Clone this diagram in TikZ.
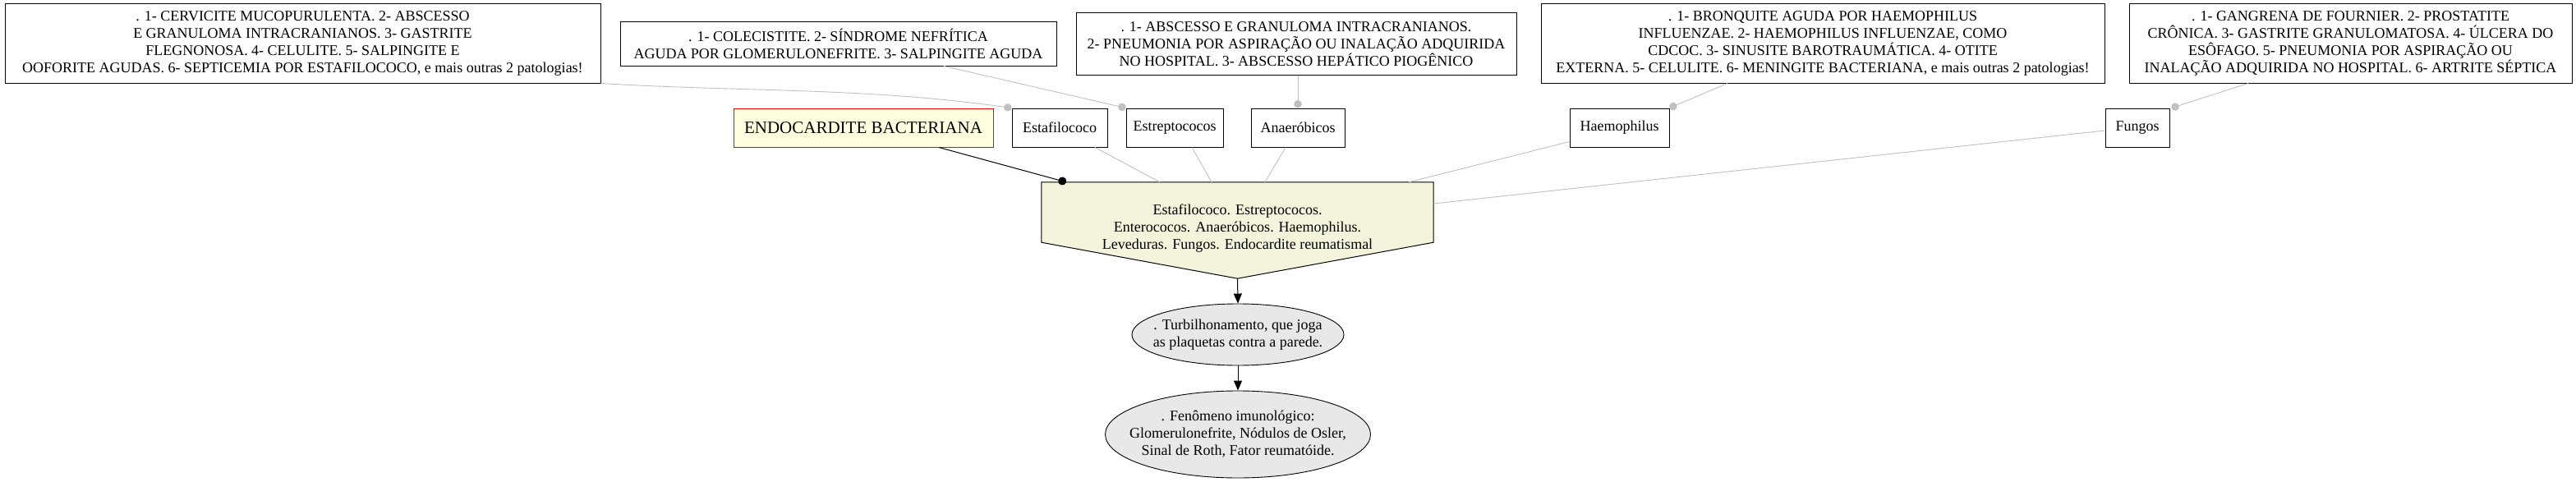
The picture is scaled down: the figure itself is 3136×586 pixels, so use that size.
\documentclass[tikz,border=0pt]{standalone}
\usepackage{fontspec}
\setmainfont{Liberation Serif}
\usetikzlibrary{arrows.meta,shapes.geometric}
\definecolor{edgegray}{HTML}{C0C0C0}
\definecolor{lyellow}{HTML}{FFFFE0}
\definecolor{beigefill}{HTML}{F4F4DC}
\definecolor{ellfill}{HTML}{E8E8E8}
\begin{document}
\begin{tikzpicture}[x=1pt,y=-1pt,
  txt/.style={font=\fontsize{18}{21}\selectfont, align=center, inner sep=0pt},
  textbox/.style={txt, draw=black, line width=1pt, rectangle, fill=white},
  orgbox/.style={txt, draw=black, line width=1pt, rectangle, minimum height=47pt, fill=white},
  mainbox/.style={draw=red, line width=1pt, fill=lyellow, inner sep=0pt, font=\fontsize{21}{25}\selectfont, minimum height=47pt},
  ellnode/.style={ellipse, draw=black, line width=0.9pt, fill=ellfill, inner sep=0pt},
  grayedge/.style={draw=edgegray, line width=0.9pt},
  dotedge/.style={grayedge, -{Circle[length=9.5pt]}},
  blackdot/.style={draw=black, line width=1pt, -{Circle[length=10pt]}},
  flowarrow/.style={draw=black, line width=1pt, -{Triangle[length=12pt,width=10pt]}}
]
\useasboundingbox (0,0) rectangle (3136,586);

% top text boxes
\node[textbox, minimum width=725pt, minimum height=96pt] (b1) at (368.5,53)
  {. 1- CERVICITE MUCOPURULENTA. 2- ABSCESSO\\ E GRANULOMA INTRACRANIANOS. 3- GASTRITE\\ FLEGNONOSA. 4- CELULITE. 5- SALPINGITE E\\ OOFORITE AGUDAS. 6- SEPTICEMIA POR ESTAFILOCOCO, e mais outras 2 patologias!};
\node[textbox, minimum width=531pt, minimum height=53pt] (b2) at (1020.5,53.5)
  {. 1- COLECISTITE. 2- SÍNDROME NEFRÍTICA\\ AGUDA POR GLOMERULONEFRITE. 3- SALPINGITE AGUDA};
\node[textbox, minimum width=536pt, minimum height=75pt] (b3) at (1578,53.5)
  {. 1- ABSCESSO E GRANULOMA INTRACRANIANOS.\\ 2- PNEUMONIA POR ASPIRAÇÃO OU INALAÇÃO ADQUIRIDA\\ NO HOSPITAL. 3- ABSCESSO HEPÁTICO PIOGÊNICO};
\node[textbox, minimum width=686pt, minimum height=96pt] (b4) at (2219,53)
  {. 1- BRONQUITE AGUDA POR HAEMOPHILUS\\ INFLUENZAE. 2- HAEMOPHILUS INFLUENZAE, COMO\\ CDCOC. 3- SINUSITE BAROTRAUMÁTICA. 4- OTITE\\ EXTERNA. 5- CELULITE. 6- MENINGITE BACTERIANA, e mais outras 2 patologias!};
\node[textbox, minimum width=539pt, minimum height=96pt] (b5) at (2861.5,53)
  {. 1- GANGRENA DE FOURNIER. 2- PROSTATITE\\ CRÔNICA. 3- GASTRITE GRANULOMATOSA. 4- ÚLCERA DO\\ ESÔFAGO. 5- PNEUMONIA POR ASPIRAÇÃO OU\\ INALAÇÃO ADQUIRIDA NO HOSPITAL. 6- ARTRITE SÉPTICA};

% middle row
\node[mainbox, minimum width=316pt] (endo) at (1051,155.5) {ENDOCARDITE BACTERIANA};
\node[orgbox, minimum width=116pt] (estaf) at (1290,155.5) {Estafilococo};
\node[orgbox, minimum width=118pt] (estrep) at (1430,155.5) {Estreptococos};
\node[orgbox, minimum width=114pt] (anaer) at (1580,155.5) {Anaeróbicos};
\node[orgbox, minimum width=121pt] (haem) at (1971.5,155.5) {Haemophilus};
\node[orgbox, minimum width=78pt] (fungos) at (2602,155.5) {Fungos};

% pentagon
\node[minimum width=477pt, minimum height=117pt, inner sep=0pt] (poly) at (1506.5,280.5) {};
\filldraw[fill=beigefill, draw=black, line width=1pt]
  (poly.north west) -- (poly.north east) -- ([yshift=44pt]poly.south east)
  -- (poly.south) -- ([yshift=44pt]poly.south west) -- cycle;
\node[txt] (polytxt) at ([yshift=2pt]poly.center)
  {Estafilococo. Estreptococos.\\ Enterococos. Anaeróbicos. Haemophilus.\\ Leveduras. Fungos. Endocardite reumatismal};

% ellipses
\node[ellnode, minimum width=258pt, minimum height=75pt,
  label={[txt]center:{. Turbilhonamento, que joga\\ as plaquetas contra a parede.}}] (e1) at (1507,407.5) {};
\node[ellnode, minimum width=323pt, minimum height=106pt,
  label={[txt]center:{. Fenômeno imunológico:\\ Glomerulonefrite, Nódulos de Osler,\\ Sinal de Roth, Fator reumatóide.}}] (e2) at (1507,529) {};

% gray dot connectors from text boxes
\draw[dotedge] (b1.south east) .. controls (900,112) and (1050,106) .. (estaf.north west);
\draw[dotedge] ([xshift=128.5pt]b2.south) -- (estrep.north west);
\draw[dotedge] ([xshift=2pt]b3.south) -- (anaer.north);
\draw[dotedge] ([xshift=-116pt]b4.south) -- (haem.north east);
\draw[dotedge] ([xshift=-124.5pt]b5.south) -- ([xshift=2pt]fungos.north east);

% gray connectors to pentagon
\draw[grayedge] ([xshift=43pt]estaf.south) -- ([xshift=-94.5pt]poly.north);
\draw[grayedge] ([xshift=21pt]estrep.south) -- ([xshift=-31.5pt]poly.north);
\draw[grayedge] ([xshift=-15pt]anaer.south) -- ([xshift=33.5pt]poly.north);
\draw[grayedge] ([yshift=7pt]haem.south west) -- ([xshift=208.5pt]poly.north);
\draw[grayedge] ([yshift=-3.5pt]fungos.west) -- ([yshift=32.5pt]poly.east);

% black connectors
\draw[blackdot] ([xshift=92pt]endo.south) -- ([xshift=-208.5pt]poly.north);
\draw[flowarrow] (poly.south) -- (e1.north);
\draw[flowarrow] (e1.south) -- (e2.north);
\end{tikzpicture}
\end{document}
